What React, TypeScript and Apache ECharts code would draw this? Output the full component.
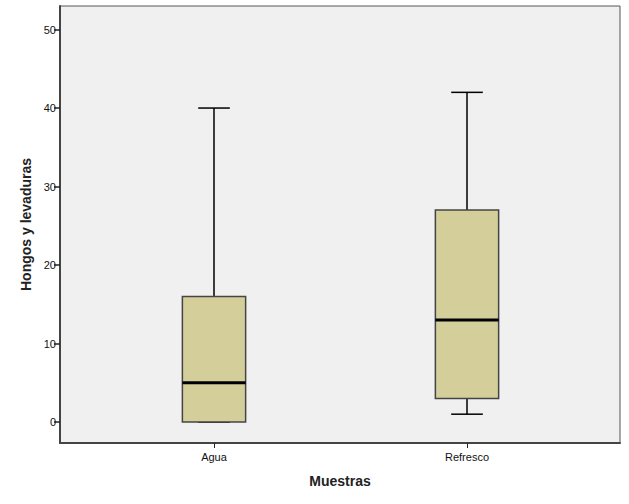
import React, { useEffect, useRef } from "react";
import * as echarts from "echarts";

const categories = ["Agua", "Refresco"];
// [min, q1, median, q3, max]
const boxStats = [
  [0, 0, 5, 16, 40],
  [1, 3, 13, 27, 42],
];
const yTicks = [0, 10, 20, 30, 40, 50];

export default function App() {
  const ref = useRef<HTMLDivElement>(null);
  useEffect(() => {
    if (!ref.current) return;
    const chart = echarts.init(ref.current, undefined, { renderer: "svg" });
    const data = boxStats.map((s, i) => [i + 1, ...s]);
    chart.setOption({
      animation: false,
      grid: {
        left: 60,
        right: 9,
        top: 6,
        bottom: 61,
        show: true,
        backgroundColor: "#f0f0f0",
        borderColor: "#555",
        borderWidth: 1,
      },
      xAxis: {
        type: "value",
        min: 0.3913,
        max: 2.6047,
        name: "Muestras",
        nameLocation: "middle",
        nameGap: 31,
        nameTextStyle: { fontFamily: "Liberation Sans", fontSize: 14, fontWeight: "bold", color: "#222" },
        axisLine: { show: true, onZero: false, lineStyle: { color: "#444", width: 2 } },
        axisTick: { show: true, customValues: [1, 2], length: 5, lineStyle: { color: "#222" } },
        axisLabel: {
          customValues: [1, 2],
          formatter: (v: number) => categories[Math.round(v) - 1] ?? "",
          fontFamily: "Liberation Sans",
          fontSize: 11,
          color: "#111",
          margin: 8,
        },
        splitLine: { show: false },
      },
      yAxis: {
        type: "value",
        min: -2.67,
        max: 53,
        name: "Hongos y levaduras",
        nameLocation: "middle",
        nameGap: 26,
        nameTextStyle: { fontFamily: "Liberation Sans", fontSize: 14, fontWeight: "bold", color: "#222" },
        axisLine: { show: true, onZero: false, lineStyle: { color: "#444", width: 2 } },
        axisTick: { show: true, customValues: yTicks, length: 6, lineStyle: { color: "#222", width: 1.5 } },
        axisLabel: {
          customValues: yTicks,
          fontFamily: "Liberation Sans",
          fontSize: 11,
          color: "#111",
          margin: 4,
        },
        splitLine: { show: false },
      },
      series: [
        {
          type: "custom",
          data,
          encode: { x: 0, y: [1, 2, 3, 4, 5] },
          renderItem: (params: any, api: any) => {
            const x = api.value(0);
            const pMin = api.coord([x, api.value(1)]);
            const pQ1 = api.coord([x, api.value(2)]);
            const pMed = api.coord([x, api.value(3)]);
            const pQ3 = api.coord([x, api.value(4)]);
            const pMax = api.coord([x, api.value(5)]);
            const band = api.size([1, 0])[0];
            const hw = band * 0.125;
            const cw = hw / 2;
            const cx = pMed[0];
            const lineStyle = { stroke: "#000", lineWidth: 1.5 };
            return {
              type: "group",
              children: [
                { type: "line", shape: { x1: cx, y1: pQ3[1], x2: cx, y2: pMax[1] }, style: lineStyle },
                { type: "line", shape: { x1: cx, y1: pQ1[1], x2: cx, y2: pMin[1] }, style: lineStyle },
                { type: "line", shape: { x1: cx - cw, y1: pMax[1], x2: cx + cw, y2: pMax[1] }, style: lineStyle },
                { type: "line", shape: { x1: cx - cw, y1: pMin[1], x2: cx + cw, y2: pMin[1] }, style: lineStyle },
                {
                  type: "rect",
                  shape: { x: cx - hw, y: pQ3[1], width: hw * 2, height: pQ1[1] - pQ3[1] },
                  style: { fill: "#d3ce9a", stroke: "#444", lineWidth: 1.5 },
                },
                { type: "line", shape: { x1: cx - hw, y1: pMed[1], x2: cx + hw, y2: pMed[1] }, style: { stroke: "#000", lineWidth: 3 } },
              ],
            };
          },
        },
      ],
    });
    return () => chart.dispose();
  }, []);
  return <div ref={ref} style={{ width: 629, height: 504, position: "absolute", left: 0, top: 0 }} />;
}
